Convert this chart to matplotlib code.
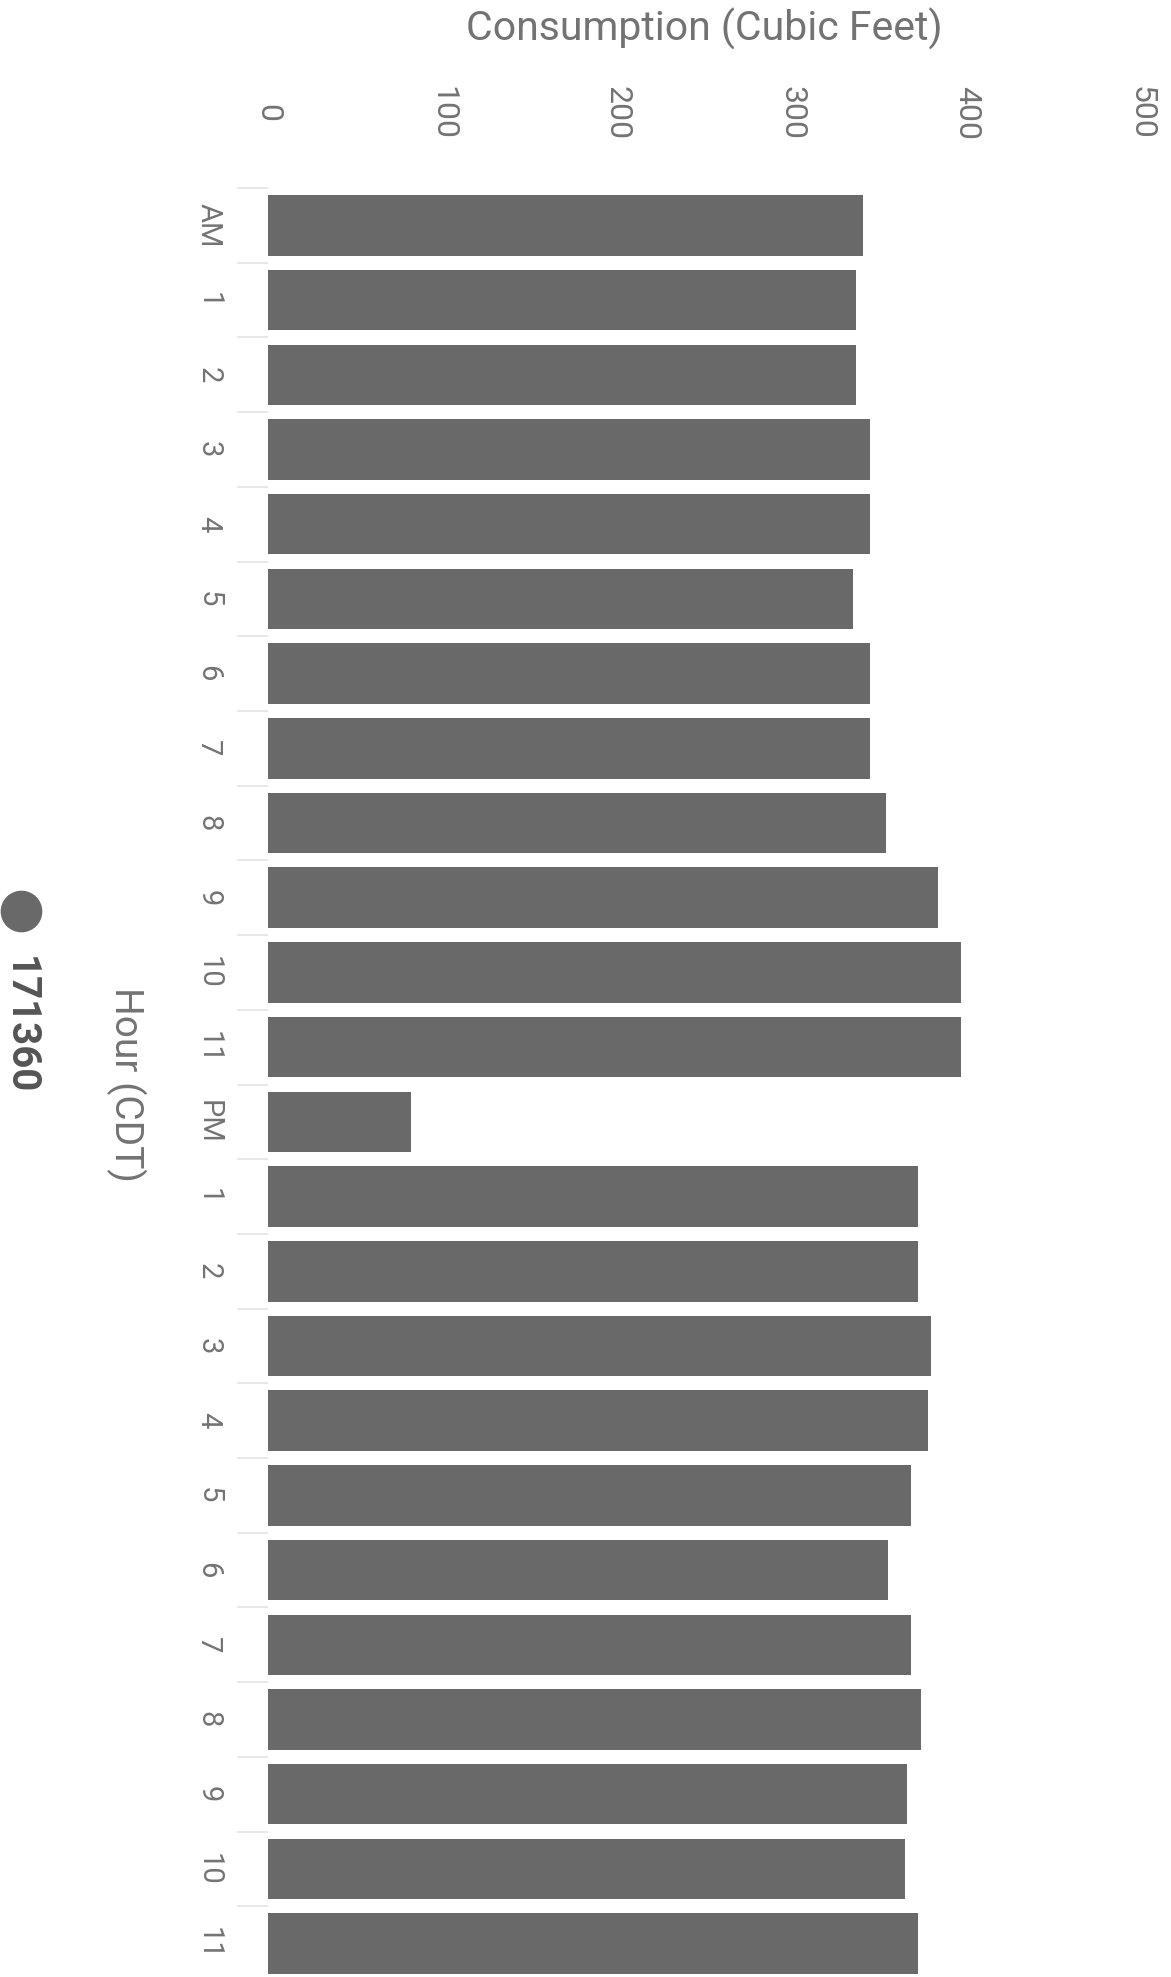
import matplotlib
matplotlib.use("Agg")
import matplotlib.pyplot as plt
from matplotlib.lines import Line2D

plt.rcParams["font.family"] = ["Roboto", "DejaVu Sans"]

# Hourly consumption for meter 171360
hours = ["AM", "1", "2", "3", "4", "5", "6", "7", "8", "9", "10", "11",
         "PM", "1", "2", "3", "4", "5", "6", "7", "8", "9", "10", "11"]
consumption = [341, 337, 337, 345, 345, 335, 345, 345, 354, 384, 397, 397,
               82, 372, 372, 380, 378, 368, 355, 368, 374, 366, 365, 372]
value_ticks = [0, 100, 200, 300, 400, 500]
series_name = "171360"

W, H = 1171, 1977
fig = plt.figure(figsize=(W / 100, H / 100), dpi=100)
fig.patch.set_facecolor("white")

# axes placed in pixel terms
left_px, right_px = 268, 1141
top_px, bottom_px = 188, 1981
ax = fig.add_axes([left_px / W, (H - bottom_px) / H,
                   (right_px - left_px) / W, (bottom_px - top_px) / H])

bar_color = "#696969"
text_grey = "#737373"
ypos = list(range(len(hours)))
ax.barh(ypos, consumption, height=0.81, color=bar_color, zorder=2)

ax.set_xlim(0, 500)
ax.set_ylim(len(hours) - 0.5, -0.5)
for s in ax.spines.values():
    s.set_visible(False)

# value axis along the top, labels turned a quarter
ax.xaxis.tick_top()
ax.set_xticks(value_ticks)
ax.set_xticklabels([str(v) for v in value_ticks], rotation=-90,
                   ha="center", va="center", fontsize=23, color=text_grey)
ax.tick_params(axis="x", length=0, pad=54)

# hour labels at the left, with faint separators between hours
ax.set_yticks(ypos)
ax.set_yticklabels(hours, rotation=-90, ha="center", va="center",
                   fontsize=21, color=text_grey)
ax.tick_params(axis="y", which="major", length=0, pad=43)
ax.set_yticks([i - 0.5 for i in range(len(hours) + 1)], minor=True)
ax.tick_params(axis="y", which="minor", length=22, width=1.2,
               color="#e4e4e4", direction="out")

ax.xaxis.set_label_position("top")
ax.set_xlabel("Consumption (Cubic Feet)", fontsize=29.5, color=text_grey)
ax.xaxis.label.set_verticalalignment("center")
ax.xaxis.set_label_coords(0.5, 1 + (top_px - 29) / (bottom_px - top_px))

ax.set_ylabel("Hour (CDT)", fontsize=28, color=text_grey, rotation=-90)
ax.yaxis.label.set_verticalalignment("center")
ax.yaxis.label.set_horizontalalignment("center")
ax.yaxis.set_label_coords((126 - left_px) / (right_px - left_px), 0.5)

# series key, turned with the rest of the chart
fig.add_artist(Line2D([21 / W], [1 - 911 / H], marker="o", markersize=29,
                      color=bar_color, linestyle="none",
                      transform=fig.transFigure))
fig.text(20 / W, 1 - 1025 / H, series_name, rotation=-90, ha="center",
         va="center", fontsize=29, fontweight="bold", color="#555555")

fig.savefig("out.png", dpi=100, facecolor="white")
